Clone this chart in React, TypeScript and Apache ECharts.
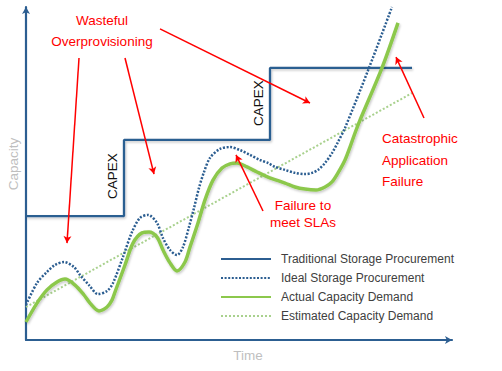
import React, { useEffect, useRef } from "react";
import * as echarts from "echarts";

// Conceptual units: time 0..213, capacity 0..111
const traditional: [number, number][] = [
  [0, 41.3], [49, 41.3], [49, 66.7], [122, 66.7], [122, 90.7], [193, 90.7],
];
const ideal: [number, number][] = [
  [0, 11.7], [5.5, 19], [10.5, 22.7], [14.5, 25], [19, 26], [24, 24.3], [27, 21.7],
  [31.5, 18.3], [36, 15.3], [40.5, 16.3], [43.5, 19], [48.5, 27.7], [53, 36],
  [57, 40.7], [61, 41.7], [65.5, 39], [68.5, 34], [72, 30], [75.5, 28.3], [78.5, 31],
  [81.5, 37.7], [84, 44], [86.5, 50.7], [89, 56], [92, 60.7], [97, 63.7], [102, 64.3],
  [107, 63.3], [112, 61.7], [117, 60], [121, 59], [124.5, 57.7], [129.5, 56.7],
  [134.5, 55.7], [139.5, 55.3], [143, 55.7], [146, 56.7], [149.5, 59], [153, 62.3],
  [156, 66], [159.5, 70.7], [171.5, 90.7], [183, 111],
];
const actual: [number, number][] = [
  [0, 6], [5.5, 12.3], [10.5, 16.7], [15.5, 19.3], [19.5, 20.3], [24.5, 18.3],
  [29, 15], [32, 12.3], [36.5, 9.7], [40.5, 11], [43, 13.3], [44.5, 16], [49.5, 25],
  [53.5, 32.3], [58, 35.7], [61.5, 36], [65.5, 34.3], [68.5, 30], [72, 25.7],
  [75.5, 23], [79.5, 26], [82, 31], [86, 39], [89.5, 46.7], [93.5, 53.3], [98, 57.3],
  [102, 58.7], [105.5, 59], [110.5, 57.7], [115.5, 56], [121, 54.3], [129.5, 52.3],
  [134.5, 51], [139.5, 50.3], [145, 50], [149.5, 51], [153, 52.7], [156, 55.7],
  [159.5, 60], [162, 64.3], [164.5, 69], [167, 73.3], [178, 90.7], [186, 105.7],
];
const estimated: [number, number][] = [
  [0, 11], [193, 82.3],
];
const seriesNames = [
  "Traditional Storage Procurement",
  "Ideal Storage Procurement",
  "Actual Capacity Demand",
  "Estimated Capacity Demand",
];
// annotation arrows [from, to] in data units
const arrows: [[number, number], [number, number]][] = [
  [[26.5, 94], [20.5, 32.3]],
  [[49.5, 94], [64, 55.3]],
  [[67, 103.7], [142, 79]],
  [[118.5, 43], [105, 61.7]],
  [[199, 74], [185, 94.3]],
];

const BLUE = "#2c5e91";
const GREEN = "#8cc84c";
const LIGHTGREEN = "#a9d18e";
const RED = "#ff0000";
const FONT = "'Liberation Sans', Arial, sans-serif";
const SHADOW = {
  shadowColor: "rgba(0,0,0,0.22)",
  shadowBlur: 2,
  shadowOffsetX: 1,
  shadowOffsetY: 1.5,
};

export default function App() {
  const ref = useRef<HTMLDivElement>(null);
  useEffect(() => {
    if (!ref.current) return;
    const chart = echarts.init(ref.current, null, { renderer: "svg" });
    const redText = (text: string, x: number, y: number, align = "center") => ({
      type: "text",
      x,
      y,
      style: {
        text,
        fill: RED,
        font: `13.5px ${FONT}`,
        textAlign: align,
        textVerticalAlign: "middle",
      },
    });
    const capex = (x: number, y: number) => ({
      type: "text",
      x,
      y,
      rotation: Math.PI / 2,
      style: {
        text: "CAPEX",
        fill: "#111",
        font: `13.5px ${FONT}`,
        textAlign: "center",
        textVerticalAlign: "middle",
      },
    });
    const axisCommon = () => ({
      type: "value",
      min: 0,
      axisLine: {
        show: true,
        symbol: ["none", "arrow"],
        symbolSize: [6, 7],
        lineStyle: { color: BLUE, width: 2.2 },
      },
      axisTick: { show: false },
      axisLabel: { show: false },
      splitLine: { show: false },
    });
    chart.setOption({
      animation: false,
      backgroundColor: "#ffffff",
      grid: { left: 26, right: 50, top: 7, bottom: 31 },
      xAxis: { ...axisCommon(), max: 213 },
      yAxis: { ...axisCommon(), max: 111 },
      legend: {
        orient: "vertical",
        left: 220,
        top: 253,
        padding: 0,
        itemWidth: 50,
        itemHeight: 14,
        itemGap: 7,
        data: seriesNames,
        itemStyle: { opacity: 0 },
        textStyle: {
          color: "#404040",
          fontSize: 12,
          fontFamily: FONT,
          padding: [0, 0, 0, 5],
        },
      },
      series: [
        {
          name: seriesNames[0],
          type: "line",
          data: traditional,
          symbol: "none",
          lineStyle: { color: BLUE, width: 2.3, ...SHADOW },
          itemStyle: { color: BLUE },
          z: 2,
        },
        {
          name: seriesNames[1],
          type: "line",
          data: ideal,
          smooth: 0.3,
          symbol: "none",
          lineStyle: { color: BLUE, width: 2.5, type: [2, 1.6] },
          itemStyle: { color: BLUE },
          z: 3,
        },
        {
          name: seriesNames[2],
          type: "line",
          data: actual,
          smooth: 0.3,
          symbol: "none",
          lineStyle: { color: GREEN, width: 3.5, ...SHADOW },
          itemStyle: { color: GREEN },
          z: 4,
        },
        {
          name: seriesNames[3],
          type: "line",
          data: estimated,
          symbol: "none",
          lineStyle: { color: LIGHTGREEN, width: 2, type: [2, 2] },
          itemStyle: { color: LIGHTGREEN },
          z: 1,
        },
        {
          name: "arrows",
          type: "line",
          data: [],
          z: 5,
          markLine: {
            silent: true,
            symbol: ["none", "arrow"],
            symbolSize: [6, 7],
            label: { show: false },
            lineStyle: { color: RED, width: 1.5, type: "solid" },
            data: arrows.map(([a, b]) => [{ coord: a }, { coord: b }]),
          },
        },
      ],
      graphic: [
        {
          type: "text",
          x: 13,
          y: 164,
          rotation: Math.PI / 2,
          style: {
            text: "Capacity",
            fill: "#bfbfbf",
            font: `13.5px ${FONT}`,
            textAlign: "center",
            textVerticalAlign: "middle",
          },
        },
        {
          type: "text",
          x: 248,
          y: 355,
          style: {
            text: "Time",
            fill: "#bfbfbf",
            font: `13.5px ${FONT}`,
            textAlign: "center",
            textVerticalAlign: "middle",
          },
        },
        redText("Wasteful", 102, 20),
        redText("Overprovisioning", 102, 41),
        redText("Catastrophic", 382, 138, "left"),
        redText("Application", 382, 160, "left"),
        redText("Failure", 382, 181, "left"),
        redText("Failure to", 303, 205),
        redText("meet SLAs", 303, 222),
        capex(112, 176),
        capex(258, 103),
      ],
    });
    return () => chart.dispose();
  }, []);
  return (
    <div
      ref={ref}
      style={{ position: "fixed", left: 0, top: 0, width: 502, height: 371 }}
    />
  );
}
